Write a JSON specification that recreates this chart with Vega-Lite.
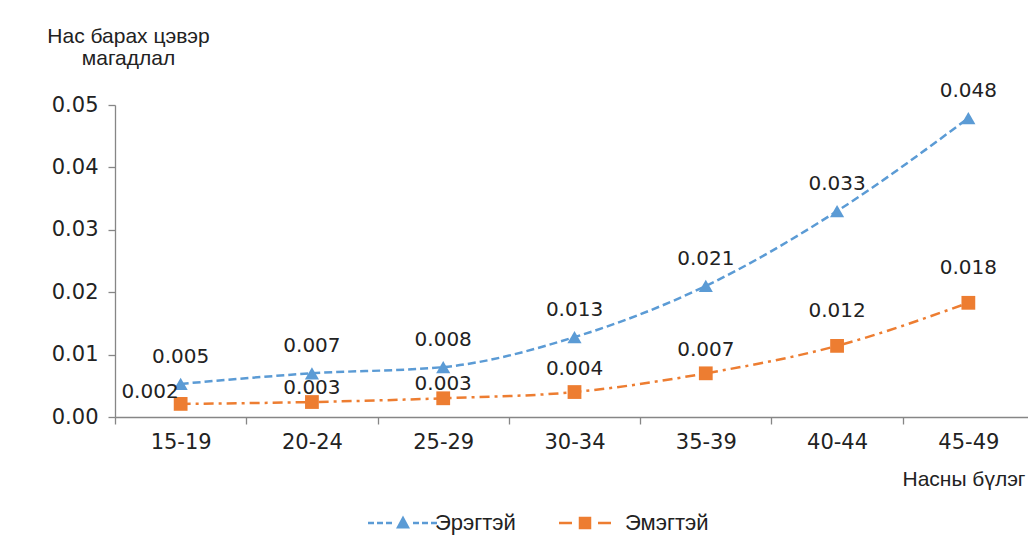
{
  "$schema": "https://vega.github.io/schema/vega-lite/v6.json",
  "autosize": "none",
  "padding": {"left": 115, "top": 105, "right": 0, "bottom": 119},
  "width": 919,
  "height": 312,
  "background": "white",
  "config": {
    "font": "Liberation Sans",
    "view": {"stroke": null},
    "text": {"font": "DejaVu Sans"},
    "axis": {"labelFont": "DejaVu Sans", "titleFont": "Liberation Sans", "labelColor": "#222", "titleColor": "#222", "domainColor": "#868686", "tickColor": "#868686", "domainWidth": 1.3, "tickWidth": 1.3, "grid": false}
  },
  "data": {
    "values": [
      {"age": "15-19", "sex": "Эрэгтэй", "value": 0.0053, "label": "0.005"},
      {"age": "20-24", "sex": "Эрэгтэй", "value": 0.0070, "label": "0.007"},
      {"age": "25-29", "sex": "Эрэгтэй", "value": 0.0080, "label": "0.008"},
      {"age": "30-34", "sex": "Эрэгтэй", "value": 0.0128, "label": "0.013"},
      {"age": "35-39", "sex": "Эрэгтэй", "value": 0.0210, "label": "0.021"},
      {"age": "40-44", "sex": "Эрэгтэй", "value": 0.0330, "label": "0.033"},
      {"age": "45-49", "sex": "Эрэгтэй", "value": 0.0479, "label": "0.048"},
      {"age": "15-19", "sex": "Эмэгтэй", "value": 0.0021, "label": "0.002"},
      {"age": "20-24", "sex": "Эмэгтэй", "value": 0.0024, "label": "0.003"},
      {"age": "25-29", "sex": "Эмэгтэй", "value": 0.0030, "label": "0.003"},
      {"age": "30-34", "sex": "Эмэгтэй", "value": 0.0040, "label": "0.004"},
      {"age": "35-39", "sex": "Эмэгтэй", "value": 0.0070, "label": "0.007"},
      {"age": "40-44", "sex": "Эмэгтэй", "value": 0.0114, "label": "0.012"},
      {"age": "45-49", "sex": "Эмэгтэй", "value": 0.0183, "label": "0.018"}
    ]
  },
  "encoding": {
    "x": {
      "field": "age", "type": "nominal", "bandPosition": 0.5,
      "scale": {"type": "band", "paddingInner": 0, "paddingOuter": 0},
      "axis": {
        "title": "Насны бүлэг", "labelAngle": 0, "labelFontSize": 21, "labelPadding": 7,
        "tickBand": "extent", "tickSize": 7,
        "titleFontSize": 21, "titleFontWeight": "normal", "titleAlign": "left", "titleAnchor": "start",
        "titleX": 787, "titleY": 68, "titleBaseline": "alphabetic"
      }
    },
    "y": {
      "field": "value", "type": "quantitative",
      "scale": {"domain": [0, 0.05]},
      "axis": {
        "title": ["Нас барах цэвэр", "магадлал"], "values": [0, 0.01, 0.02, 0.03, 0.04, 0.05], "format": ".2f",
        "labelFontSize": 21, "labelPadding": 10, "tickSize": 7,
        "titleAngle": 0, "titleFontSize": 21, "titleFontWeight": "normal", "titleAlign": "center",
        "titleX": 13, "titleY": -63, "titleBaseline": "alphabetic", "titleLineHeight": 22
      }
    },
    "color": {
      "field": "sex", "type": "nominal",
      "scale": {"domain": ["Эрэгтэй", "Эмэгтэй"], "range": ["#5B9BD5", "#ED7D31"]},
      "legend": {
        "title": null, "orient": "none", "direction": "horizontal", "legendX": 277, "legendY": 407,
        "labelFont": "Liberation Sans", "labelFontSize": 22, "labelColor": "#222",
        "symbolSize": 100, "symbolOpacity": 1, "symbolStrokeWidth": 0,
        "labelOffset": 21, "columnPadding": 43
      }
    }
  },
  "layer": [
    {
      "mark": {"type": "line", "interpolate": "monotone", "strokeWidth": 2.5},
      "encoding": {
        "strokeDash": {
          "field": "sex", "type": "nominal",
          "scale": {"domain": ["Эрэгтэй", "Эмэгтэй"], "range": [[8, 4], [10, 5, 3, 5]]},
          "legend": null
        }
      }
    },
    {
      "transform": [{"filter": "datum.sex === 'Эрэгтэй'"}],
      "mark": {"type": "point", "shape": "triangle-up", "filled": true, "opacity": 1, "size": 200}
    },
    {
      "transform": [{"filter": "datum.sex === 'Эмэгтэй'"}],
      "mark": {"type": "point", "shape": "square", "filled": true, "opacity": 1, "size": 190}
    },
    {
      "transform": [{"filter": "datum.age === '__none__'"}],
      "mark": {"type": "point", "filled": true, "opacity": 1, "size": 100},
      "encoding": {
        "shape": {
          "field": "sex", "type": "nominal",
          "scale": {
            "domain": ["Эрэгтэй", "Эмэгтэй"],
            "range": [
              "M-7.0,-0.25H-5.8V0.25H-7.0Z M-5.2,-0.25H-4.0V0.25H-5.2Z M-3.4,-0.25H-2.2V0.25H-3.4Z M-1.4,1.1L0,-1.5L1.4,1.1Z M2.0,-0.25H3.2V0.25H2.0Z M3.8,-0.25H5.0V0.25H3.8Z M5.6,-0.25H6.8V0.25H5.6Z",
              "M-6.8,-0.25H-4.2V0.25H-6.8Z M-2.85,-1.25H-0.35V1.25H-2.85Z M1.0,-0.25H3.6V0.25H1.0Z"
            ]
          }
        }
      }
    },
    {
      "transform": [{"filter": "datum.sex === 'Эрэгтэй'"}],
      "mark": {"type": "text", "fontSize": 20, "dy": -27},
      "encoding": {"text": {"field": "label"}, "color": {"value": "#222"}}
    },
    {
      "transform": [{"filter": "datum.sex === 'Эмэгтэй' && (datum.age === '30-34' || datum.age === '35-39')"}],
      "mark": {"type": "text", "fontSize": 20, "dy": -23},
      "encoding": {"text": {"field": "label"}, "color": {"value": "#222"}}
    },
    {
      "transform": [{"filter": "datum.sex === 'Эмэгтэй' && (datum.age === '40-44' || datum.age === '45-49')"}],
      "mark": {"type": "text", "fontSize": 20, "dy": -35},
      "encoding": {"text": {"field": "label"}, "color": {"value": "#222"}}
    },
    {
      "transform": [{"filter": "datum.sex === 'Эмэгтэй' && (datum.age === '20-24' || datum.age === '25-29')"}],
      "mark": {"type": "text", "fontSize": 20, "dy": -14},
      "encoding": {"text": {"field": "label"}, "color": {"value": "#222"}}
    },
    {
      "transform": [{"filter": "datum.sex === 'Эмэгтэй' && datum.age === '15-19'"}],
      "mark": {"type": "text", "fontSize": 20, "align": "right", "dx": -2, "dy": -12},
      "encoding": {"text": {"field": "label"}, "color": {"value": "#222"}}
    }
  ]
}
